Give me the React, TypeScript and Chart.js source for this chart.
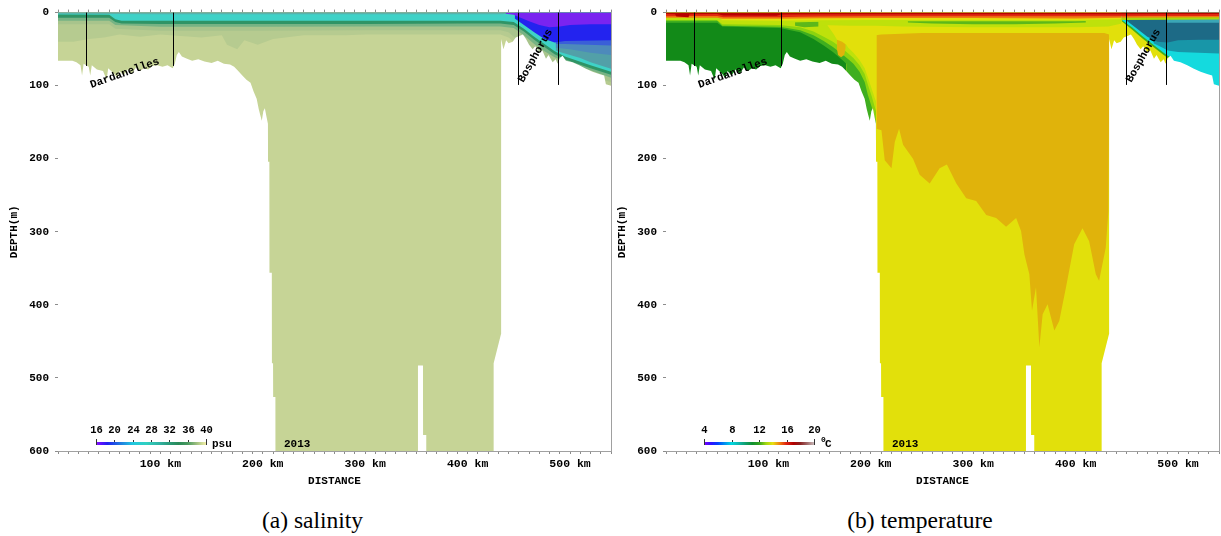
import React, { useEffect, useRef } from "react";
import { Chart, registerables } from "chart.js";

Chart.register(...registerables);

type Pt = [number, number];

// ---------------- axes / labels ----------------
const KM_MIN = 0;
const KM_MAX = 540;
const KM_MINOR_STEP = 10;
const KM_LABELLED = [100, 200, 300, 400, 500];
const DEPTH_MIN = 0;
const DEPTH_MAX = 600;
const DEPTH_TICKS = [0, 100, 200, 300, 400, 500, 600];
const X_TITLE = "DISTANCE";
const Y_TITLE = "DEPTH(m)";
const YEAR_LABEL = "2013";
const CAPTIONS = ["(a) salinity", "(b) temperature"];

// straits: name, bounding distances (km), depth of marker lines (m)
const STRAIT_NAMES = ["Dardanelles", "Bosphorus"];
const STRAIT_KM: Pt[] = [[27, 112], [448.9, 487.8]];
const STRAIT_LINE_DEPTH = [73, 99];

// ---------------- bathymetry (km, depth m) ----------------
const BOTTOM: Pt[] = [
  [0, 66], [14, 66], [18, 68], [22, 72], [23.5, 86], [25, 70], [30, 74], [31.5, 86], [33, 72], [38, 78],
  [44, 80], [47.5, 92], [49, 76], [55, 84], [58, 90], [60, 80], [64, 86], [68, 78], [72, 84], [76, 75],
  [80, 80], [84, 76], [88, 78], [92, 73], [97, 72], [102, 74], [107, 72], [112, 76], [114, 70], [116, 58],
  [118, 54], [121, 60], [126, 63], [131, 66], [137, 64], [143, 67], [150, 69], [156, 66], [162, 70], [168, 71],
  [172, 74], [176, 80], [180, 86], [184, 92], [188, 96], [191, 108], [194, 118], [196, 132], [197.5, 140], [199, 148],
  [200.5, 135], [202, 131], [203.5, 142], [205, 152], [205.1, 204], [206.4, 204], [206.5, 356], [208.8, 356], [208.9, 480], [210, 480],
  [210.1, 526], [212.3, 526], [212.4, 700], [351.4, 700], [351.5, 483], [356.4, 483], [356.5, 578], [359.6, 578], [359.7, 700], [425.3, 700],
  [425.4, 480], [432.6, 440], [432.7, 36], [435, 50], [437.6, 38], [440, 42], [444, 40], [447, 34], [450.5, 32], [454, 30],
  [457, 36], [460, 44], [463.5, 50], [466, 46], [470, 54], [473, 52], [476.5, 63], [479, 58], [483, 68], [486, 64],
  [487.8, 70], [490, 62], [492.7, 59], [496, 66], [502.4, 68], [509, 72], [515.5, 77], [522, 81], [528.4, 84], [533.3, 86],
  [535, 98], [540, 100],
];

// ---------------- salinity: lower boundaries of colour layers (km, depth m) ----------------
const SAL_BG: Pt[] = [[0, 700], [540, 700]];
const SAL_S1: Pt[] = [[0, 40], [15, 40], [30, 36], [45, 34], [60, 30], [80, 33], [100, 30], [120, 32], [140, 34], [160, 31], [165, 44], [175, 50], [182, 38], [195, 44], [210, 36], [240, 31], [280, 31], [300, 30], [400, 30], [432, 30], [440, 34], [450, 46], [460, 60], [480, 80], [540, 100]];
const SAL_S2: Pt[] = [[0, 16], [50, 16], [56, 22], [100, 25], [200, 25], [300, 24], [400, 24], [432, 24], [440, 27], [450, 39], [460, 52], [470, 62], [480, 70], [490, 76], [540, 95]];
const SAL_S3: Pt[] = [[0, 11], [50, 11], [56, 17], [100, 19.5], [200, 19.5], [300, 19], [400, 19], [432, 19], [445, 21], [455, 31], [465, 43], [475, 53], [485, 61], [495, 67], [505, 72], [520, 79], [540, 89]];
const SAL_S4: Pt[] = [[0, 7], [50, 7], [56, 13], [62, 15], [100, 15.5], [200, 15.5], [300, 15.5], [400, 15], [432, 15], [445, 17], [455, 26], [465, 37], [475, 47], [485, 57], [495, 64], [505, 69], [520, 76], [540, 85]];
const SAL_S5: Pt[] = [[0, 2.5], [50, 3], [56, 9], [62, 11], [100, 11.3], [200, 11.3], [300, 11.3], [400, 11], [432, 11], [445, 13], [455, 22], [465, 33], [475, 43], [485, 53], [495, 60], [505, 65], [520, 72], [540, 81]];
const SAL_S6: Pt[] = [[0, 1.5], [56, 1.8], [100, 2.3], [432, 2.3], [440, 1.5]];
const SAL_E_TEAL: Pt[] = [[486, 52], [490, 54], [500, 58], [510, 62], [520, 68], [540, 77]];
const SAL_E_SLATE: Pt[] = [[486, 48], [500, 50], [520, 55], [540, 58]];
const SAL_E_BLUE2: Pt[] = [[486, 43], [495, 43], [540, 45]];
const SAL_E_BLUE: Pt[] = [[446, 8], [455, 17], [465, 27], [475, 36], [485, 41], [495, 39], [540, 38]];
const SAL_E_PURPLE: Pt[] = [[437, 1.5], [445, 3], [450, 6], [460, 12], [470, 17], [480, 20], [490, 19], [500, 17], [520, 16], [540, 16]];

const SAL_LAYERS = [SAL_BG, SAL_S1, SAL_S2, SAL_S3, SAL_S4, SAL_S5, SAL_S6, SAL_E_TEAL, SAL_E_SLATE, SAL_E_BLUE2, SAL_E_BLUE, SAL_E_PURPLE];
const SAL_COLORS = ["#c6d496", "#b6cb90", "#a8c48c", "#76b384", "#2f9466", "#3fd2c7", "#5bb0aa", "#52a0a8", "#4d8abb", "#3a5fd8", "#2323ef", "#7a24f0"];

const SAL_BAR_TICKS = [16, 20, 24, 28, 32, 36, 40];
const SAL_BAR_STOPS: [number, string][] = [[16, "#9010ff"], [17, "#6010ff"], [18.5, "#2020f0"], [21, "#2070e0"], [24, "#20c8e0"], [27, "#30d0c0"], [30, "#30b0a0"], [32, "#2a9a78"], [34, "#2a8a58"], [36, "#4a9a60"], [38, "#a0c080"], [40, "#f4f0a8"]];

// ---------------- temperature: lower boundaries of colour layers (km, depth m) ----------------
const T_BG: Pt[] = [[0, 700], [540, 700]];
const T_GOLD: Pt[] = [[205.5, 159], [210.4, 161], [213.6, 202], [220.2, 213], [223.4, 177], [227.6, 159], [231.5, 181], [241.2, 200], [247.7, 222], [257.5, 234], [267.2, 213], [274.3, 208], [283.5, 234], [293.2, 254], [302.9, 258], [312.7, 277], [322.4, 281], [332.1, 293], [341.9, 281], [346.7, 299], [350, 331], [354.8, 358], [357.4, 408], [361.3, 376], [364.6, 458], [367.8, 413], [372.6, 399], [379.2, 435], [384, 422], [390.6, 376], [398.6, 317], [406.7, 295], [413.2, 313], [419.7, 358], [422.9, 367], [429.4, 322], [432, 272], [432.7, 122]];
const T_G_DK: Pt[] = [[0, 700], [176, 700]];
const T_G_MD: Pt[] = [[0, 14], [50, 14], [55, 19], [111, 21], [131, 27], [144, 36], [154, 45], [163, 54], [173, 66], [176, 70], [176.05, 700], [205.05, 700]];
const T_G_LT: Pt[] = [[0, 11], [50, 11], [55, 18], [111, 19.5], [131, 24], [144, 31], [154, 39], [163, 47], [173, 58], [178, 64], [183, 70], [189, 81], [194, 95], [197, 112], [201, 130], [205.05, 150]];
const T_G_YG: Pt[] = [[0, 10], [50, 10], [55, 16], [111, 17], [131, 20], [144, 26], [154, 33], [163, 40], [173, 50], [178, 56], [183, 62], [189, 72], [194, 84], [197, 98], [201, 115], [205.05, 135]];
const T_GOLD_LENS: Pt[] = [[167, 50], [168, 58], [171, 61], [174, 58], [175.5, 48]];
const T_Y_MID: Pt[] = [[156, 14], [160, 22], [164, 30], [167, 37], [172, 40], [176, 44], [178, 48], [183, 55], [189, 65], [194, 76], [197, 88], [201, 105], [205.05, 122], [205.1, 31], [210, 30], [250, 28], [300, 28], [400, 28], [428, 28], [432.7, 30]];
const T_YG2: Pt[] = [[0, 10], [50, 10], [55, 14.5], [111, 15], [140, 16], [150, 17], [180, 18], [205, 18], [230, 19], [300, 20], [400, 20], [432, 19], [445, 15]];
const T_G_LENS_W: Pt[] = [[126, 18], [135, 20], [149, 19]];
const T_G_LENS: Pt[] = [[236, 13.5], [260, 15], [300, 16], [340, 16], [380, 15], [410, 13.5]];
const T_YG_TOP: Pt[] = [[0, 10], [50, 10], [55, 14], [111, 14], [140, 13], [200, 12], [300, 12], [400, 12], [445, 10.5]];
const T_Y_TOP: Pt[] = [[54, 10.5], [111, 11], [150, 10.5], [200, 10], [300, 10], [400, 10], [445, 9]];
const T_ORANGE: Pt[] = [[0, 7], [50, 7], [55, 8.5], [111, 8.5], [130, 8], [150, 7.8], [200, 7.5], [300, 7.5], [400, 8], [445, 7]];
const T_E_GREEN: Pt[] = [[445, 12], [455, 23], [465, 35], [475, 46], [485, 57], [490, 62], [494, 66]];
const T_E_CYAN: Pt[] = [[445, 10], [455, 20], [465, 32], [475, 43], [485, 54], [490, 59], [494, 62], [494.1, 700], [540, 700]];
const T_E_TEAL: Pt[] = [[476, 42], [485, 48], [490, 52], [500, 54], [520, 55], [540, 56]];
const T_E_DTEAL: Pt[] = [[449, 10], [460, 22], [470, 33], [480, 40], [490, 41], [500, 38], [520, 37], [540, 37]];
const T_E_LTEAL: Pt[] = [[488, 14], [540, 14]];
const T_E_YG: Pt[] = [[445, 10], [540, 9.5]];
const T_E_ORANGE: Pt[] = [[445, 7], [540, 6.5]];
const T_RED: Pt[] = [[0, 5], [24, 4.5], [50, 4.5], [56, 6.5], [110, 6.5], [130, 5.8], [150, 5.3], [200, 5], [300, 5], [400, 5], [440, 5], [470, 4.5], [540, 4.5]];
const T_DKRED: Pt[] = [[0, 2], [9, 2.2], [10, 5.5], [22, 6.2], [23, 2.2], [50, 2], [56, 4], [108, 4.3], [112, 2.6], [150, 2.4], [300, 2.3], [440, 2.2], [540, 2]];

const T_LAYERS = [T_BG, T_GOLD, T_G_DK, T_G_MD, T_G_LT, T_G_YG, T_GOLD_LENS, T_Y_MID, T_YG2, T_G_LENS_W, T_G_LENS, T_YG_TOP, T_Y_TOP, T_ORANGE, T_E_GREEN, T_E_CYAN, T_E_TEAL, T_E_DTEAL, T_E_LTEAL, T_E_YG, T_E_ORANGE, T_RED, T_DKRED];
const T_COLORS = ["#e2e00b", "#e0b30b", "#128a18", "#3fae1f", "#8bd30f", "#bee10b", "#e0b30b", "#e2e00b", "#bee10b", "#5cb81a", "#5cb81a", "#bee10b", "#e2e00b", "#f07c10", "#3fae1f", "#14dade", "#1896a8", "#1d6a86", "#3aa6b6", "#a8d80c", "#f07c10", "#e02a10", "#b80000"];

const T_BAR_TICKS = [4, 8, 12, 16, 20];
const T_BAR_STOPS: [number, string][] = [[4, "#8000ff"], [5, "#3010ff"], [6, "#0040ff"], [7, "#0090f0"], [8, "#00d8e0"], [9, "#10b8b0"], [10, "#10a070"], [11, "#109030"], [12, "#30a020"], [13, "#a0d810"], [14, "#e8e010"], [15, "#f08010"], [16, "#e02010"], [17, "#b00000"], [18, "#8a2020"], [19, "#a06868"], [20, "#c8b8b8"]];

// ---------------- rendering ----------------
const MONO = "'Liberation Mono', 'DejaVu Sans Mono', 'Courier New', monospace";
const CANVAS_W = 614;
const CANVAS_H = 500;

interface Panel {
  layers: Pt[][];
  colors: string[];
  barTicks: number[];
  barStops: [number, string][];
  unit: "psu" | "degC";
}

const SAL_PANEL: Panel = { layers: SAL_LAYERS, colors: SAL_COLORS, barTicks: SAL_BAR_TICKS, barStops: SAL_BAR_STOPS, unit: "psu" };
const T_PANEL: Panel = { layers: T_LAYERS, colors: T_COLORS, barTicks: T_BAR_TICKS, barStops: T_BAR_STOPS, unit: "degC" };

// label placements (km, depth, rotation in degrees)
const STRAIT_LABEL_POS = [
  { km: 65.3, depth: 83, angle: -19.5 },
  { km: 466.2, depth: 59, angle: -60.6 },
];

function makeDecor(panel: Panel) {
  return {
    id: "decor",
    afterDraw(chart: any) {
      const { ctx, chartArea: ca, scales } = chart;
      const xs = scales.x;
      const ys = scales.y;
      ctx.save();
      ctx.strokeStyle = "#000";
      ctx.lineWidth = 1;
      STRAIT_KM.forEach((pair, i) => {
        pair.forEach((km) => {
          const px = Math.round(xs.getPixelForValue(km)) + 0.5;
          ctx.beginPath();
          ctx.moveTo(px, ys.getPixelForValue(0));
          ctx.lineTo(px, ys.getPixelForValue(STRAIT_LINE_DEPTH[i]));
          ctx.stroke();
        });
        const lp = STRAIT_LABEL_POS[i];
        ctx.save();
        ctx.translate(xs.getPixelForValue(lp.km), ys.getPixelForValue(lp.depth));
        ctx.rotate((lp.angle * Math.PI) / 180);
        ctx.fillStyle = "#000";
        ctx.font = `bold 11px ${MONO}`;
        ctx.textAlign = "center";
        ctx.textBaseline = "middle";
        ctx.fillText(STRAIT_NAMES[i], 0, 0);
        ctx.restore();
      });

      ctx.fillStyle = "#000";
      ctx.font = `bold 11px ${MONO}`;
      ctx.textAlign = "left";
      ctx.textBaseline = "middle";
      ctx.fillText(YEAR_LABEL, ca.left + 226, 444);

      const ticks = panel.barTicks;
      const v0 = ticks[0];
      const v1 = ticks[ticks.length - 1];
      const bx0 = ca.left + 38;
      const bx1 = ca.left + 148;
      const by = 442;
      const bh = 3;
      const g = ctx.createLinearGradient(bx0, 0, bx1, 0);
      panel.barStops.forEach(([v, c]) => g.addColorStop((v - v0) / (v1 - v0), c));
      ctx.fillStyle = g;
      ctx.fillRect(bx0, by, bx1 - bx0, bh);
      ctx.strokeStyle = "#333";
      ctx.font = `bold 10.5px ${MONO}`;
      ctx.textAlign = "center";
      ctx.fillStyle = "#000";
      ticks.forEach((t, i) => {
        const px = Math.round(bx0 + ((t - v0) / (v1 - v0)) * (bx1 - bx0)) + 0.5;
        const end = i === 0 || i === ticks.length - 1;
        ctx.beginPath();
        ctx.moveTo(px, end ? by - 3 : by - 2);
        ctx.lineTo(px, end ? by + bh : by);
        ctx.stroke();
        ctx.fillText(String(t), px, 430);
      });
      ctx.textAlign = "left";
      if (panel.unit === "psu") {
        ctx.font = `bold 11px ${MONO}`;
        ctx.fillText("psu", bx1 + 6, 444);
      } else {
        ctx.font = `bold 8px ${MONO}`;
        ctx.fillText("0", bx1 + 7, 440);
        ctx.font = `bold 11px ${MONO}`;
        ctx.fillText("C", bx1 + 11, 444);
      }

      ctx.font = `bold 11px ${MONO}`;
      ctx.textAlign = "center";
      ctx.textBaseline = "middle";
      ctx.fillText(X_TITLE, (ca.left + ca.right) / 2, 481.5);
      ctx.save();
      ctx.translate(14, (ca.top + ca.bottom) / 2);
      ctx.rotate(-Math.PI / 2);
      ctx.fillText(Y_TITLE, 0, 0);
      ctx.restore();
      ctx.restore();
    },
  };
}

function buildConfig(panel: Panel): any {
  const n = panel.layers.length;
  const datasets: any[] = panel.layers.map((pts, i) => ({
    data: pts.map(([x, y]) => ({ x, y })),
    backgroundColor: panel.colors[i],
    borderColor: "rgba(0,0,0,0)",
    borderWidth: 0,
    pointRadius: 0,
    pointHoverRadius: 0,
    pointHitRadius: 0,
    tension: 0,
    fill: { value: 0 },
    order: n + 1 - i,
    xAxisID: "x",
    yAxisID: "y",
  }));
  datasets.push({
    data: BOTTOM.map(([x, y]) => ({ x, y })),
    backgroundColor: "#ffffff",
    borderColor: "rgba(0,0,0,0)",
    borderWidth: 0,
    pointRadius: 0,
    pointHoverRadius: 0,
    pointHitRadius: 0,
    tension: 0,
    fill: { value: 1000 },
    order: 0,
    xAxisID: "x",
    yAxisID: "y",
  });

  const tickFont = { family: MONO, size: 11.5, weight: "bold" as const };
  const axisGrid = { drawOnChartArea: false, drawTicks: true, tickLength: 3, color: "#8c8c8c" };
  const axisBorder = { display: true, color: "#a0a0a0", width: 1 };

  return {
    type: "line",
    data: { datasets },
    options: {
      responsive: false,
      animation: false,
      events: [],
      layout: { padding: { top: 10, right: 1.5, bottom: 0, left: 0 } },
      plugins: { legend: { display: false }, tooltip: { enabled: false }, title: { display: false } },
      scales: {
        x: {
          type: "linear",
          position: "bottom",
          min: KM_MIN,
          max: KM_MAX,
          z: 1,
          ticks: {
            stepSize: KM_MINOR_STEP,
            autoSkip: false,
            maxRotation: 0,
            minRotation: 0,
            padding: 3,
            color: "#000",
            font: tickFont,
            callback: (v: any) => (KM_LABELLED.includes(Math.round(Number(v))) ? `${Math.round(Number(v))} km` : ""),
          },
          grid: axisGrid,
          border: axisBorder,
          afterFit: (s: any) => {
            s.height = 49;
          },
        },
        x2: {
          type: "linear",
          position: "top",
          min: KM_MIN,
          max: KM_MAX,
          z: 1,
          ticks: { stepSize: KM_MINOR_STEP, autoSkip: false, display: false },
          grid: axisGrid,
          border: axisBorder,
          afterFit: (s: any) => {
            s.height = 0;
          },
        },
        y: {
          type: "linear",
          position: "left",
          reverse: true,
          min: DEPTH_MIN,
          max: DEPTH_MAX,
          z: 1,
          afterBuildTicks: (s: any) => {
            s.ticks = DEPTH_TICKS.map((v) => ({ value: v }));
          },
          ticks: { padding: 6, color: "#000", font: { family: MONO, size: 11, weight: "bold" } },
          grid: axisGrid,
          border: axisBorder,
          afterFit: (s: any) => {
            s.width = 58;
          },
        },
        y2: {
          type: "linear",
          position: "right",
          reverse: true,
          min: DEPTH_MIN,
          max: DEPTH_MAX,
          z: 1,
          afterBuildTicks: (s: any) => {
            s.ticks = DEPTH_TICKS.map((v) => ({ value: v }));
          },
          ticks: { display: false },
          grid: { drawOnChartArea: false, drawTicks: false },
          border: axisBorder,
          afterFit: (s: any) => {
            s.width = 0;
          },
        },
      },
    },
    plugins: [makeDecor(panel)],
  };
}

function Section({ panel, left }: { panel: Panel; left: number }) {
  const ref = useRef<HTMLCanvasElement>(null);
  useEffect(() => {
    if (!ref.current) return;
    const chart = new Chart(ref.current, buildConfig(panel));
    return () => chart.destroy();
  }, [panel]);
  return (
    <canvas
      ref={ref}
      width={CANVAS_W}
      height={CANVAS_H}
      style={{ position: "absolute", left, top: 0, width: CANVAS_W, height: CANVAS_H, display: "block" }}
    />
  );
}

function captionStyle(cx: number): React.CSSProperties {
  return {
    position: "absolute",
    left: cx - 150,
    width: 300,
    top: 508.5,
    textAlign: "center",
    fontFamily: "'Liberation Serif', 'Times New Roman', serif",
    fontSize: 23.5,
    lineHeight: "23.5px",
    color: "#000",
    whiteSpace: "nowrap",
  };
}

export default function App() {
  return (
    <div style={{ position: "fixed", left: 0, top: 0, width: 1221, height: 536, background: "#fff", overflow: "hidden" }}>
      <Section panel={SAL_PANEL} left={0} />
      <Section panel={T_PANEL} left={608} />
      <div style={captionStyle(312.5)}>{CAPTIONS[0]}</div>
      <div style={captionStyle(920)}>{CAPTIONS[1]}</div>
    </div>
  );
}
